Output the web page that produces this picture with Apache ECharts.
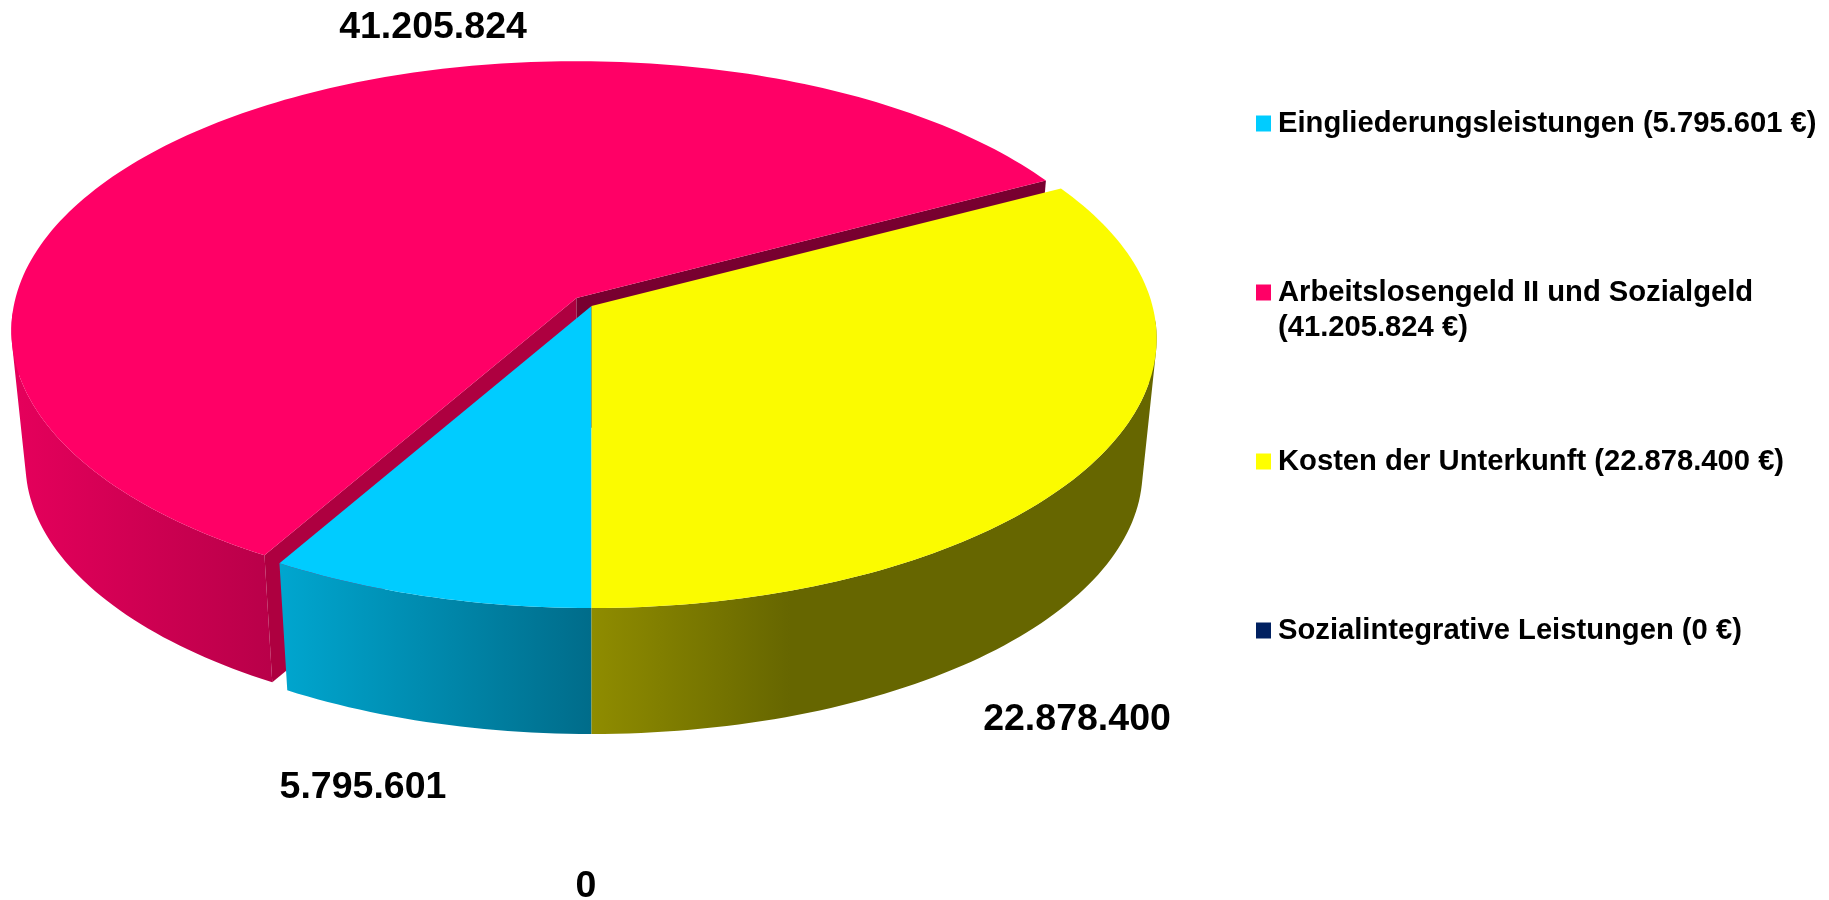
<!DOCTYPE html>
<html>
<head>
<meta charset="utf-8">
<style>
  html, body { margin: 0; padding: 0; background: #fff; }
  #myChart { width: 1829px; height: 900px; }
</style>
</head>
<body>
<div id="myChart"></div>
<script src="https://cdn.jsdelivr.net/npm/echarts@6/dist/echarts.min.js"></script>
<script>
  var names = ['Eingliederungsleistungen', 'Arbeitslosengeld II und Sozialgeld', 'Kosten der Unterkunft', 'Sozialintegrative Leistungen'];
  var values = [5795601, 41205824, 22878400, 0];
  var colors = ['#00CCFF', '#FF0066', '#FFFF00', '#002060'];

  var total = values.reduce(function (a, b) { return a + b; }, 0);
  var fontFamily = '"Liberation Sans", Arial, sans-serif';

  // perspective of the disc, pixels of the 1829x900 page
  var disc = { x: 591.5, y: 306, a: 561, b: 265.5, k: 0.121 };
  var base = { y: 439.5, scale: 0.975 };

  // look of each slice, same order as names
  var looks = [
    { z: 2, top: '#00CCFF', wall: [[0, '#00A6CF'], [1, '#006C8A']], from: 280, to: 592 },
    { z: 1, top: '#FF0066', wall: [[0, '#E4005B'], [1, '#B90049']], from: 20, to: 270, dx: -15, dy: -8, inner: ['#AE0040', '#780030'] },
    { z: 3, top: '#FBFB00', wall: [[0, '#8F8C00'], [0.35, '#666600'], [1, '#666600']], from: 592, to: 1160 },
    { z: 4 }
  ];
  var labelAt = [[363, 788], [433, 28], [1077, 719.5], [586, 887]];

  function startOf(i) {
    var sum = 0;
    for (var j = 0; j < i; j++) sum += values[j];
    return sum;
  }

  // t runs clockwise from the front of the pie, in radians
  function project(t, radius, bottom, look) {
    var u = -Math.sin(t) * radius;
    var v = -Math.cos(t) * radius;
    var w = 1 + disc.k * v;
    var s = bottom ? base.scale : 1;
    return [
      disc.x + (look.dx || 0) + s * disc.a * u / w,
      (bottom ? base.y : disc.y) + (look.dy || 0) - s * disc.b * v / w
    ];
  }

  function poly(points, fill) {
    return { type: 'polygon', shape: { points: points }, style: { fill: fill, stroke: null } };
  }

  function formatNum(v) {
    return String(v).replace(/\B(?=(\d{3})+$)/g, '.');
  }

  // all quads in one path and turned the same way, so there are no seams between them
  function quadPath(a, b, c, d) {
    var area = (b[0] - a[0]) * (c[1] - a[1]) - (c[0] - a[0]) * (b[1] - a[1]);
    var q = area < 0 ? [d, c, b, a] : [a, b, c, d];
    return 'M' + q.map(function (p) { return p[0].toFixed(2) + ' ' + p[1].toFixed(2); }).join('L') + 'Z';
  }

  function renderSlice(params, api) {
    var i = params.seriesIndex;
    var look = looks[i];
    var val = api.value(0);
    var children = [];

    if (val > 0) {
      var t0 = startOf(i) / total * Math.PI * 2;
      var t1 = (startOf(i) + val) / total * Math.PI * 2;
      var n = Math.ceil((t1 - t0) / 0.02);
      var top = [], bot = [], d = '';
      for (var s = 0; s <= n; s++) {
        var t = t0 + (t1 - t0) * s / n;
        top.push(project(t, 1, false, look));
        bot.push(project(t, 1, true, look));
        // the back of the wall is hidden behind the top
        if (s > 0 && Math.cos(t) > 0.05 && Math.cos(t0 + (t1 - t0) * (s - 1) / n) > 0.05) {
          d += quadPath(top[s - 1], top[s], bot[s], bot[s - 1]);
        }
      }
      var apex = project(0, 0, false, look);
      var apexBot = project(0, 0, true, look);

      children.push({
        type: 'path',
        shape: { pathData: d },
        style: {
          fill: {
            type: 'linear', x: look.from, y: 0, x2: look.to, y2: 0, global: true,
            colorStops: look.wall.map(function (c) { return { offset: c[0], color: c[1] }; })
          },
          stroke: null
        }
      });
      if (look.inner) {
        children.push(poly([apex, top[0], bot[0], apexBot], look.inner[0]));
        children.push(poly([apex, top[top.length - 1], bot[bot.length - 1], apexBot], look.inner[1]));
      }
      children.push(poly([apex].concat(top), look.top));
    }

    children.push({
      type: 'text',
      z2: 10,
      style: {
        text: formatNum(val),
        x: labelAt[i][0],
        y: labelAt[i][1],
        align: 'center',
        verticalAlign: 'middle',
        fontFamily: fontFamily,
        fontWeight: 'bold',
        fontSize: 37.5,
        fill: '#000'
      }
    });
    return { type: 'group', children: children };
  }

  var legendText = {};
  names.forEach(function (name, i) {
    legendText[name] = name + ' (' + formatNum(values[i]) + ' €)';
  });
  // the long entry breaks onto a second line
  legendText[names[1]] = names[1];

  var myChart = echarts.init(document.getElementById('myChart'));
  myChart.setOption({
    animation: false,
    backgroundColor: '#fff',
    color: colors,
    legend: {
      orient: 'vertical',
      left: 1256,
      top: 109,
      padding: 0,
      data: names,
      icon: 'rect',
      itemWidth: 15,
      itemHeight: 16,
      itemGap: 140,
      selectedMode: false,
      formatter: function (name) { return legendText[name]; },
      textStyle: { fontFamily: fontFamily, fontWeight: 'bold', fontSize: 29.2, color: '#000', padding: [0, 0, 0, 2] }
    },
    graphic: [{
      type: 'text',
      left: 1278,
      top: 313,
      style: {
        text: '(' + formatNum(values[1]) + ' €)',
        fontFamily: fontFamily,
        fontWeight: 'bold',
        fontSize: 29.2,
        fill: '#000'
      }
    }],
    series: names.map(function (name, i) {
      return {
        type: 'custom',
        name: name,
        coordinateSystem: 'none',
        z: looks[i].z,
        silent: true,
        itemStyle: { color: colors[i] },
        renderItem: renderSlice,
        data: [[values[i]]]
      };
    })
  });
</script>
</body>
</html>
